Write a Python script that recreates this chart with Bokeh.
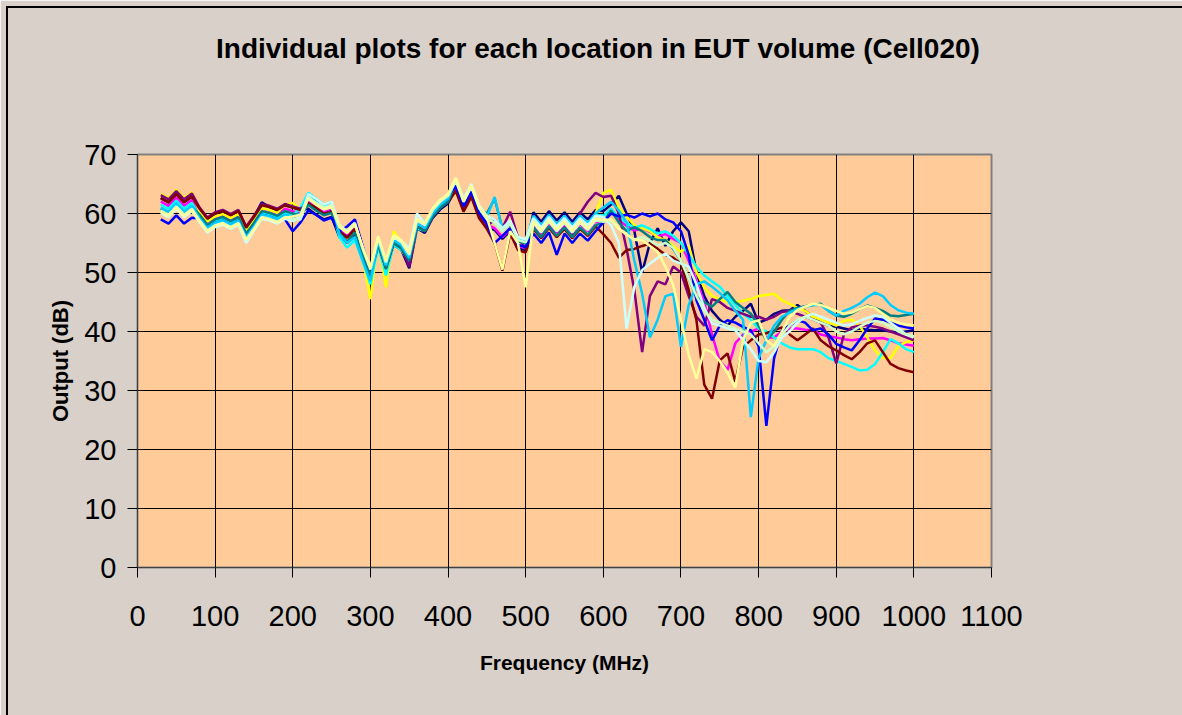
from bokeh.plotting import figure
from bokeh.models import Range1d, FixedTicker, InlineStyleSheet, LinearAxis
from bokeh.embed import file_html
from bokeh.resources import INLINE

freq = list(range(30, 1001, 10))

navy = [62.6, 61.9, 63.3, 61.9, 62.9,
        60.8, 59.1, 60.0, 60.4, 59.7, 60.4, 57.6, 59.4, 61.9, 61.1, 60.6, 61.4, 61.0, 60.6,
        60.8, 59.8, 59.0, 59.4, 56.0, 55.0, 56.4,
        52.7, 49.2, 54.5, 50.4, 54.7, 53.8, 50.7, 57.5, 56.7, 59.2, 60.7, 61.7,
        64.2, 60.7, 63.2, 59.6, 57.8, 57.2, 55.7, 57.0, 54.2, 53.8,
        60.2, 58.6, 60.4, 58.8, 60.2, 58.6, 60.2, 59.0, 60.6, 60.4,
        61.5, 63.0, 60.0, 57.0, 50.0, 55.0, 57.5, 54.5, 57.0,
        58.5, 57.0, 50.0, 46.0, 43.5, 42.0, 41.0, 42.5, 43.5, 44.7, 41.5, 42.0, 43.0, 43.5, 43.6, 44.5,
        43.5, 42.5, 41.5, 41.0, 40.8, 40.5, 40.2, 40.5, 40.3, 40.2, 40.2, 40.0, 39.8, 40.0, 40.2]

magenta = [62.0, 61.3, 62.7, 61.3, 62.3,
           60.2, 58.5, 59.4, 59.8, 59.1, 59.8, 57.0, 58.8, 60.8, 60.5, 60.0, 60.8, 60.4, 60.0,
           62.0, 61.0, 60.2, 60.6, 57.2, 56.2, 57.6,
           53.8, 50.3, 55.6, 51.5, 55.8, 54.9, 52.8, 58.6, 57.8, 60.3, 61.8, 62.8,
           64.5, 61.0, 63.5, 59.9, 58.1, 57.5, 56.0, 57.3, 54.5, 54.1,
           58.2, 56.6, 58.4, 56.8, 58.2, 56.6, 58.2, 57.0, 58.6, 58.4,
           60.3, 58.9, 57.9, 57.1, 57.5, 56.9, 56.1, 56.5, 55.7,
           55.0, 52.0, 48.5, 45.0, 39.5, 35.0, 33.5, 38.0, 39.5, 40.0, 40.5, 39.0, 39.0, 40.0, 40.5, 40.5,
           40.3, 40.2, 39.5, 39.2, 39.0, 38.7, 38.5, 38.7, 38.8, 38.8, 38.9, 38.5, 38.0, 37.8, 37.6]

yellow = [63.3, 62.6, 64.0, 62.6, 63.6,
          60.3, 58.6, 59.5, 59.9, 59.2, 59.9, 57.1, 58.9, 60.9, 60.6, 60.1, 61.5, 61.8, 60.6,
          62.8, 61.8, 61.0, 61.4, 58.0, 57.0, 58.4,
          52.5, 45.5, 55.8, 47.5, 57.0, 55.1, 53.0, 58.8, 58.0, 60.5, 62.0, 63.0,
          65.8, 62.3, 64.8, 61.2, 59.4, 58.8, 57.3, 58.6, 55.8, 55.4,
          58.9, 57.3, 59.1, 57.5, 58.9, 57.3, 58.9, 57.7, 60.0, 63.5,
          64.0, 61.0, 59.5, 58.0, 57.5, 57.0, 56.0, 55.5, 54.5,
          53.5, 54.5, 50.0, 47.5, 46.0, 45.5, 45.0, 45.0, 45.2, 45.5, 46.0, 46.2, 46.4, 45.3, 44.7, 44.0,
          43.5, 42.5, 42.0, 41.5, 41.0, 41.8, 42.0, 41.0, 39.0, 36.8, 35.5, 35.5, 37.5, 38.2, 38.5]

cyan = [61.5, 60.8, 62.2, 60.8, 61.8,
        59.5, 57.8, 58.7, 59.1, 58.4, 59.1, 56.3, 58.1, 60.1, 59.8, 59.3, 60.1, 59.7, 61.0,
        63.5, 62.5, 61.5, 61.0, 56.0, 54.2, 55.5,
        52.0, 48.0, 54.5, 49.5, 54.7, 53.8, 51.7, 57.5, 57.0, 59.5, 61.0, 62.0,
        65.5, 62.0, 64.5, 60.9, 59.1, 58.5, 57.0, 58.3, 55.5, 55.1,
        59.4, 57.8, 59.6, 58.0, 59.4, 57.8, 59.4, 58.2, 59.8, 59.6,
        60.8, 59.4, 58.4, 57.6, 58.0, 57.4, 56.6, 57.0, 56.2,
        55.0, 53.0, 51.0, 49.5, 48.5, 47.6, 46.0, 44.5, 43.0, 42.0, 40.5, 40.0, 39.0, 38.0, 37.3, 37.0,
        37.0, 37.0, 36.5, 35.5, 35.0, 34.5, 34.0, 33.4, 33.5, 34.5, 36.5, 38.7, 38.0, 37.0, 36.5]

purple = [63.1, 62.4, 63.8, 62.4, 63.4,
          61.0, 59.3, 60.2, 60.6, 59.9, 60.6, 57.8, 59.6, 61.6, 61.3, 60.8, 61.6, 61.2, 60.8,
          61.8, 60.8, 60.0, 60.4, 57.0, 56.0, 57.4,
          53.2, 49.7, 55.0, 50.9, 55.2, 54.3, 51.0, 58.0, 57.2, 59.7, 61.2, 62.2,
          64.2, 60.7, 63.2, 59.6, 57.8, 59.0, 57.5, 60.3, 56.0, 54.0,
          57.6, 56.0, 57.8, 56.2, 57.6, 56.0, 60.0, 62.0, 63.5, 62.8,
          63.0, 60.0, 54.0, 47.0, 36.5, 46.0, 48.5, 48.0, 51.0,
          50.0, 46.0, 42.5, 41.0, 45.5, 45.0, 44.0, 43.5, 43.0, 42.5, 42.5, 42.0, 42.5, 43.3, 43.5, 43.0,
          42.5, 42.0, 41.5, 39.0, 34.6, 39.5, 40.7, 41.0, 41.0, 40.8, 40.5, 40.0, 39.5, 39.0, 38.5]

maroon = [62.6, 61.9, 63.3, 61.9, 62.9,
          60.8, 59.1, 60.0, 60.4, 59.7, 60.4, 57.6, 59.4, 61.4, 61.1, 60.6, 61.4, 61.0, 60.6,
          61.7, 61.0, 59.9, 60.3, 56.9, 55.9, 57.3,
          53.0, 49.5, 54.8, 50.7, 55.0, 54.1, 52.0, 57.8, 57.0, 59.5, 61.0, 62.0,
          63.8, 60.3, 62.8, 59.2, 57.4, 55.0, 50.3, 56.6, 53.8, 53.4,
          57.4, 55.8, 57.6, 56.0, 57.4, 55.8, 57.4, 56.2, 57.8, 56.5,
          55.0, 52.5, 53.8, 54.0, 54.5, 54.9, 54.0, 53.0, 52.5,
          51.5, 47.0, 41.9, 31.0, 28.6, 35.1, 36.3, 31.5, 37.4, 38.5, 39.5, 39.7, 40.2, 40.7, 39.5, 38.5,
          39.5, 40.5, 38.5, 37.5, 36.8, 36.0, 35.3, 36.5, 38.0, 38.5, 36.5, 34.5, 33.8, 33.4, 33.1]

teal = [60.8, 60.1, 61.5, 60.1, 61.1,
        59.8, 58.1, 59.0, 59.4, 58.7, 59.4, 56.6, 58.4, 60.4, 60.1, 59.6, 60.4, 60.0, 59.6,
        61.5, 60.5, 59.7, 60.1, 56.7, 55.2, 56.8,
        53.0, 49.5, 54.8, 50.7, 55.0, 54.1, 52.0, 57.8, 57.0, 59.5, 61.0, 62.0,
        65.3, 61.8, 64.3, 60.7, 60.0, 62.5, 57.5, 58.1, 55.3, 54.9,
        57.6, 56.0, 57.8, 56.2, 57.6, 56.0, 57.6, 56.4, 58.0, 58.5,
        60.5, 58.5, 57.0, 57.7, 57.0, 56.0, 55.5, 55.5, 54.0,
        52.0, 49.0, 45.9, 45.0, 44.2, 45.5, 46.7, 45.0, 44.0, 43.0, 41.0, 38.5, 40.0, 42.0, 43.5, 44.0,
        44.3, 44.5, 44.7, 43.5, 42.7, 42.5, 43.0, 43.8, 44.4, 44.0, 43.5, 42.7, 42.6, 42.8, 43.0]

blue = [59.0, 58.3, 59.7, 58.3, 59.3,
        59.2, 57.5, 58.4, 58.8, 58.1, 58.8, 56.0, 57.8, 59.8, 59.5, 59.0, 59.0, 57.0, 58.5,
        60.5, 59.8, 58.8, 59.3, 57.0, 57.8, 59.0,
        54.5, 50.5, 55.8, 51.7, 56.0, 55.1, 53.0, 58.8, 58.0, 60.5, 62.0, 63.0,
        64.7, 61.2, 63.7, 60.1, 58.3, 55.0, 56.2, 57.5, 54.7, 54.3,
        56.6, 55.0, 56.8, 53.0, 56.6, 55.0, 56.6, 55.4, 57.0, 58.5,
        60.0, 59.5, 59.8, 59.3, 60.0, 59.5, 60.0, 59.0, 58.5,
        57.0, 53.0, 45.3, 42.0, 38.5, 41.0, 41.9, 41.5, 40.8, 40.2, 37.5, 24.0, 35.5, 40.2, 41.0, 41.9,
        41.5, 40.2, 40.5, 39.5, 37.9, 37.3, 36.8, 38.5, 40.5, 42.2, 42.0, 41.5, 41.0, 40.7, 40.5]

sky_blue = [61.0, 60.3, 61.7, 60.3, 61.3,
            59.2, 57.5, 58.4, 58.8, 58.1, 58.8, 56.0, 57.8, 59.8, 59.5, 59.0, 59.8, 59.4, 60.0,
            63.3, 62.3, 61.5, 61.9, 56.5, 55.0, 56.0,
            52.0, 48.5, 55.3, 51.2, 55.5, 54.6, 52.5, 58.3, 57.5, 60.0, 61.5, 62.5,
            65.8, 62.3, 64.8, 61.2, 59.4, 62.8, 57.3, 58.6, 55.8, 55.4,
            59.6, 58.0, 59.8, 58.2, 59.6, 58.0, 59.6, 58.4, 60.0, 61.0,
            62.0, 60.5, 58.5, 52.0, 46.4, 39.0, 42.0, 46.0, 46.4,
            37.4, 44.5, 48.0, 48.5, 47.6, 46.5, 45.3, 43.5, 42.0, 25.5, 35.5, 38.5, 41.0, 42.5, 43.2, 43.8,
            44.2, 44.5, 44.5, 43.5, 42.7, 43.5, 44.0, 44.7, 45.8, 46.6, 46.0, 44.5, 43.6, 43.2, 43.0]

light_turquoise = [60.1, 59.4, 60.8, 59.4, 60.4,
                   58.5, 56.8, 57.7, 58.1, 57.4, 58.1, 55.0, 57.1, 59.1, 58.8, 58.3, 59.1, 58.7, 59.5,
                   63.3, 62.5, 61.5, 62.0, 58.0, 57.0, 58.2,
                   54.3, 50.8, 56.1, 52.0, 56.3, 55.4, 54.0, 60.0, 58.3, 60.8, 62.3, 63.3,
                   66.0, 62.5, 65.0, 61.4, 59.6, 59.0, 57.5, 58.8, 56.0, 55.6,
                   59.2, 57.6, 59.4, 57.8, 59.2, 57.6, 59.2, 58.0, 59.6, 59.4,
                   58.0, 55.0, 40.5, 47.6, 50.4, 51.5, 52.5, 53.2, 52.0,
                   51.5, 51.0, 48.0, 44.0, 41.4, 41.0, 40.5, 40.2, 38.5, 37.0, 35.0, 34.8, 36.5, 39.0, 40.0, 41.5,
                   42.5, 43.0, 42.5, 42.0, 41.5, 41.0, 41.2, 41.8, 42.3, 42.7, 42.5, 41.5, 40.5, 39.5, 39.0]

light_green = [60.5, 59.8, 61.2, 59.8, 60.8,
               58.8, 57.1, 58.0, 58.4, 57.7, 58.4, 55.6, 57.4, 59.4, 59.1, 58.6, 59.4, 59.0, 59.0,
               62.8, 61.8, 61.0, 61.4, 58.0, 57.0, 58.4,
               54.0, 50.5, 55.8, 51.7, 56.0, 55.1, 53.0, 58.8, 58.0, 60.5, 62.0, 63.0,
               65.5, 62.0, 64.5, 60.9, 59.1, 58.5, 57.0, 58.3, 55.5, 55.1,
               58.4, 56.8, 58.6, 57.0, 58.4, 56.8, 58.4, 57.2, 58.8, 58.6,
               58.8, 57.4, 56.4, 55.6, 56.0, 55.4, 54.6, 55.0, 54.2,
               52.0, 49.0, 46.0, 43.5, 42.0, 41.5, 41.0, 40.5, 40.0, 39.5, 38.0, 36.5, 37.5, 39.5, 41.0, 42.0,
               42.5, 42.0, 41.5, 41.0, 40.0, 39.5, 40.0, 40.8, 41.5, 41.8, 41.5, 40.8, 40.0, 39.5, 39.2]

light_yellow = [60.3, 59.6, 61.0, 59.6, 60.6,
                58.7, 57.0, 57.9, 58.3, 57.6, 58.3, 55.5, 57.3, 59.3, 59.0, 58.5, 59.3, 59.5, 59.8,
                62.5, 61.5, 60.7, 61.1, 57.7, 56.7, 58.1,
                54.3, 50.8, 56.1, 52.0, 56.3, 55.4, 53.3, 59.1, 58.3, 60.8, 62.3, 63.3,
                66.0, 62.0, 64.8, 61.2, 59.4, 55.0, 50.5, 57.0, 55.0, 47.5,
                58.7, 57.1, 58.9, 57.3, 58.7, 57.1, 58.7, 57.5, 59.1, 58.9,
                59.0, 57.5, 56.5, 55.5, 55.5, 54.5, 53.5, 51.0, 47.9,
                42.0, 36.0, 32.0, 37.0, 36.5, 35.0, 33.0, 30.5, 38.5, 41.5, 41.9, 38.5, 37.5, 40.0, 42.5, 43.6,
                44.2, 44.7, 44.5, 44.0, 43.5, 43.0, 43.2, 43.8, 44.3, 44.0, 43.0, 42.0, 41.5, 41.2, 41.0]

series = [
    ("#000080", navy), ("#FF00FF", magenta), ("#FFFF00", yellow), ("#00FFFF", cyan),
    ("#800080", purple), ("#800000", maroon), ("#008080", teal), ("#0000FF", blue),
    ("#00CCFF", sky_blue), ("#CCFFFF", light_turquoise), ("#CCFFCC", light_green),
    ("#FFFF99", light_yellow),
]

x_ticks = list(range(0, 1101, 100))
y_ticks = list(range(0, 71, 10))

TITLE = "Individual plots for each location in EUT volume (Cell020)"
TITLE_X = 593.1   # x-data position of the title's centre (centred on the whole chart area)

FONT = "Liberation Sans"
BG = "#D8D0C9"

p = figure(frame_width=854, frame_height=413,
           min_border_left=137, min_border_right=191, min_border_top=154, min_border_bottom=148,
           x_range=Range1d(0, 1100), y_range=Range1d(0, 70),
           output_backend="svg", toolbar_location=None)
p.stylesheets = [InlineStyleSheet(css="""
:host { position: relative; }
:host::before {
  content: ""; position: absolute; left: 6px; top: 6px; right: 0px; height: 2px;
  background: black; pointer-events: none; z-index: 100;
}
:host::after {
  content: ""; position: absolute; left: 6px; top: 6px; width: 2px; bottom: 0px;
  background: black; pointer-events: none; z-index: 100;
}
""")]

p.background_fill_color = "#FFCC99"
p.border_fill_color = BG
p.outline_line_color = "#808080"
p.outline_line_width = 2

for col, ys in series:
    p.line(freq, ys, line_color=col, line_width=2.5)

p.xaxis.ticker = FixedTicker(ticks=x_ticks)
p.yaxis.ticker = FixedTicker(ticks=y_ticks)
p.xgrid.ticker = FixedTicker(ticks=x_ticks)
p.ygrid.ticker = FixedTicker(ticks=y_ticks)
p.xgrid.grid_line_color = "black"
p.ygrid.grid_line_color = "black"
p.xgrid.grid_line_alpha = 1
p.ygrid.grid_line_alpha = 1

for ax in (p.xaxis[0], p.yaxis[0]):
    ax.major_label_text_font = FONT
    ax.major_label_text_font_size = "29px"
    ax.major_label_text_color = "black"
    ax.major_tick_out = 10
    ax.major_tick_in = 0
    ax.minor_tick_out = 0
    ax.minor_tick_in = 0
    ax.major_tick_line_color = "black"
    ax.axis_line_color = "#404040"
    ax.axis_label_text_font = FONT
    ax.axis_label_text_font_style = "bold"
    ax.axis_label_text_color = "black"

p.xaxis.axis_label = "Frequency (MHz)"
p.xaxis.axis_label_text_font_size = "21px"
p.xaxis.major_label_standoff = 28
p.xaxis.axis_label_standoff = 22

p.yaxis.axis_label = "Output (dB)"
p.yaxis.axis_label_text_font_size = "22px"
p.yaxis.major_label_standoff = 11
p.yaxis.axis_label_standoff = 8

# chart title, drawn as the single label of an otherwise invisible axis above the plot area
title_axis = LinearAxis(ticker=FixedTicker(ticks=[TITLE_X]),
                        major_label_overrides={TITLE_X: TITLE},
                        major_tick_out=0, major_tick_in=0, major_label_standoff=91,
                        axis_line_color=None, major_tick_line_color=None,
                        minor_tick_line_color=None,
                        major_label_text_font=FONT, major_label_text_font_size="28px",
                        major_label_text_font_style="bold", major_label_text_color="black")
p.add_layout(title_axis, "above")

open("out.html", "w").write(file_html(p, INLINE))
